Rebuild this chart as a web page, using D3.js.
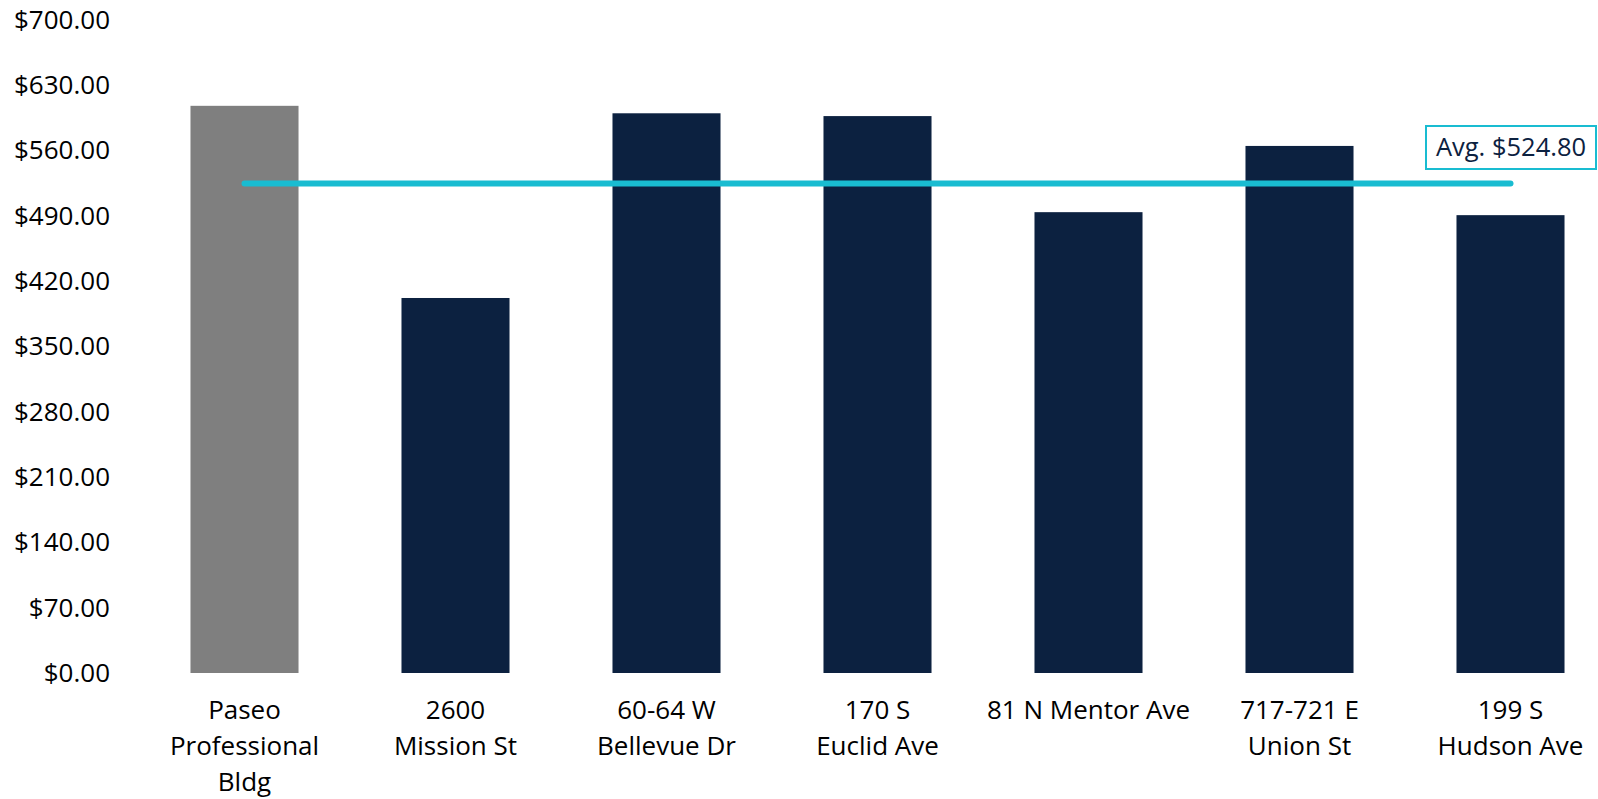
<!DOCTYPE html>
<html>
<head>
<meta charset="utf-8">
<script src="https://cdn.jsdelivr.net/npm/d3@7"></script>
<style>
  html, body { margin: 0; padding: 0; background: #ffffff; }
  svg { display: block; }
  text { font-family: "Open Sans", "Noto Sans", sans-serif; }
</style>
</head>
<body>
<svg id="chart" width="1598" height="799"></svg>
<script>
// ---- Data ----
const categories = [
  "Paseo\nProfessional\nBldg",
  "2600\nMission St",
  "60-64 W\nBellevue Dr",
  "170 S\nEuclid Ave",
  "81 N Mentor Ave",
  "717-721 E\nUnion St",
  "199 S\nHudson Ave"
];
const values = [608.00, 402.00, 600.00, 597.00, 494.00, 565.00, 490.80];
const isSubject = [true, false, false, false, false, false, false];
const averageValue = 524.80;
const averageLabel = "Avg. $524.80";
const yTicks = [0, 70, 140, 210, 280, 350, 420, 490, 560, 630, 700];

// ---- Layout ----
const svg = d3.select("#chart");
const x = d3.scaleBand()
  .domain(categories)
  .range([139, 1616])
  .paddingInner(0.488)
  .paddingOuter(0.244);
const y = d3.scaleLinear().domain([0, 700]).range([673, 20]);

const fmt = d => "$" + d3.format(",.2f")(d);

// Y axis (labels only)
const yAxis = svg.append("g")
  .attr("transform", "translate(110,0)")
  .call(d3.axisLeft(y).tickValues(yTicks).tickFormat(fmt).tickSize(0).tickPadding(0));
yAxis.select(".domain").remove();
yAxis.selectAll("text")
  .attr("font-family", "'Open Sans', sans-serif")
  .attr("font-size", 26)
  .attr("fill", "#000000");

// Bars
svg.append("g").selectAll("rect")
  .data(values)
  .join("rect")
  .attr("x", (d, i) => x(categories[i]))
  .attr("y", d => y(d))
  .attr("width", x.bandwidth())
  .attr("height", d => y(0) - y(d))
  .attr("fill", (d, i) => isSubject[i] ? "#7f7f7f" : "#0c2140");

// X axis labels (multi-line)
const xAxis = svg.append("g")
  .attr("transform", `translate(0,${y(0)})`)
  .call(d3.axisBottom(x).tickSize(0).tickPadding(0));
xAxis.select(".domain").remove();
xAxis.selectAll("text").each(function(d) {
  const t = d3.select(this);
  const lines = d.split("\n");
  t.text(null)
    .attr("y", 0)
    .attr("dy", null)
    .attr("font-family", "'Open Sans', sans-serif")
    .attr("font-size", 26)
    .attr("fill", "#000000");
  lines.forEach((ln, k) => {
    t.append("tspan")
      .attr("x", 0)
      .attr("y", 46 + k * 36)
      .text(ln);
  });
});

// Average line
const xFirst = x(categories[0]) + x.bandwidth() / 2;
const xLast = x(categories[categories.length - 1]) + x.bandwidth() / 2;
svg.append("line")
  .attr("x1", xFirst)
  .attr("x2", xLast)
  .attr("y1", y(averageValue))
  .attr("y2", y(averageValue))
  .attr("stroke", "#19bcd1")
  .attr("stroke-width", 6)
  .attr("stroke-linecap", "round");

// Average label box
const lbl = svg.append("g");
lbl.append("rect")
  .attr("x", 1426)
  .attr("y", 126)
  .attr("width", 170)
  .attr("height", 43)
  .attr("fill", "#ffffff")
  .attr("stroke", "#19bcd1")
  .attr("stroke-width", 2);
lbl.append("text")
  .attr("x", 1511)
  .attr("y", 156)
  .attr("text-anchor", "middle")
  .attr("font-size", 25.5)
  .attr("fill", "#0c2140")
  .text(averageLabel);
</script>
</body>
</html>
